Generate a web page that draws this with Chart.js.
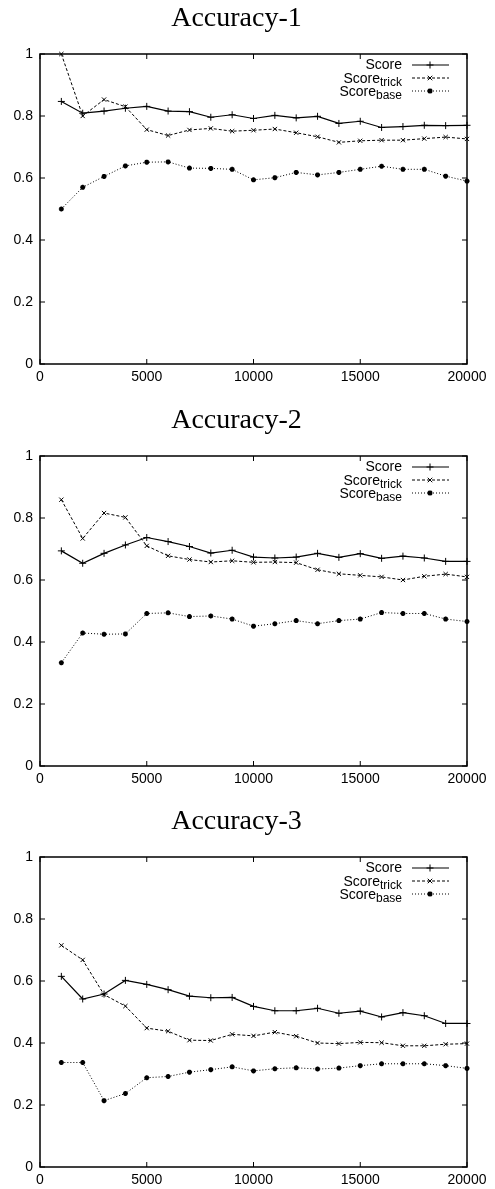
<!DOCTYPE html>
<html>
<head>
<meta charset="utf-8">
<script src="https://cdn.jsdelivr.net/npm/chart.js@4.4.1/dist/chart.umd.min.js"></script>
<style>
body { margin: 0; background: #fff; }
canvas { position: absolute; left: 0; }
</style>
</head>
<body>
<canvas id="acc1" width="495" height="386" style="top:0px"></canvas>
<canvas id="acc2" width="495" height="386" style="top:402px"></canvas>
<canvas id="acc3" width="495" height="386" style="top:803px"></canvas>
<script>
const steps = [1000, 2000, 3000, 4000, 5000, 6000, 7000, 8000, 9000, 10000,
	11000, 12000, 13000, 14000, 15000, 16000, 17000, 18000, 19000, 20000];
const xTicks = [0, 5000, 10000, 15000, 20000];
const yTicks = [0, 0.2, 0.4, 0.6, 0.8, 1];
const seriesNames = ['Score', 'trick', 'base'];

const acc1Score = [0.847, 0.809, 0.816, 0.825, 0.831, 0.816, 0.814, 0.796, 0.804, 0.792,
	0.802, 0.794, 0.799, 0.776, 0.783, 0.763, 0.766, 0.770, 0.769, 0.770];
const acc1Trick = [1.000, 0.800, 0.853, 0.830, 0.756, 0.737, 0.755, 0.760, 0.751, 0.754,
	0.758, 0.746, 0.733, 0.715, 0.720, 0.722, 0.722, 0.727, 0.732, 0.726];
const acc1Base = [0.500, 0.570, 0.605, 0.639, 0.651, 0.652, 0.632, 0.631, 0.628, 0.594,
	0.601, 0.618, 0.610, 0.618, 0.628, 0.638, 0.628, 0.628, 0.606, 0.590];

const acc2Score = [0.694, 0.654, 0.686, 0.713, 0.737, 0.724, 0.708, 0.687, 0.696, 0.674,
	0.671, 0.674, 0.686, 0.673, 0.685, 0.670, 0.677, 0.671, 0.660, 0.660];
const acc2Trick = [0.859, 0.734, 0.816, 0.802, 0.710, 0.678, 0.666, 0.658, 0.662, 0.657,
	0.658, 0.656, 0.633, 0.620, 0.615, 0.610, 0.600, 0.612, 0.619, 0.610];
const acc2Base = [0.333, 0.429, 0.425, 0.426, 0.492, 0.494, 0.482, 0.484, 0.474, 0.451,
	0.459, 0.469, 0.459, 0.469, 0.474, 0.495, 0.492, 0.492, 0.474, 0.466];

const acc3Score = [0.615, 0.542, 0.558, 0.602, 0.589, 0.572, 0.551, 0.546, 0.547, 0.518,
	0.504, 0.504, 0.512, 0.496, 0.503, 0.484, 0.498, 0.488, 0.463, 0.463];
const acc3Trick = [0.715, 0.668, 0.556, 0.519, 0.448, 0.438, 0.409, 0.408, 0.428, 0.423,
	0.435, 0.422, 0.400, 0.398, 0.402, 0.401, 0.391, 0.391, 0.396, 0.398];
const acc3Base = [0.337, 0.337, 0.214, 0.237, 0.288, 0.292, 0.306, 0.314, 0.323, 0.310,
	0.317, 0.320, 0.316, 0.319, 0.327, 0.333, 0.333, 0.333, 0.327, 0.318];

const styles = [
	{ dash: [], width: 1.2, point: 'cross', radius: 3.5, pw: 1 },
	{ dash: [3, 2], width: 1, point: 'crossRot', radius: 3, pw: 1 },
	{ dash: [1, 2], width: 1, point: 'star', radius: 2.5, pw: 1.6 }
];

function pts(vals) {
	return steps.map((s, i) => ({ x: s, y: vals[i] }));
}

function drawMarker(ctx, kind, x, y, r) {
	ctx.beginPath();
	if (kind === 'cross' || kind === 'star') {
		ctx.moveTo(x - r, y); ctx.lineTo(x + r, y);
		ctx.moveTo(x, y - r); ctx.lineTo(x, y + r);
	}
	if (kind === 'crossRot' || kind === 'star') {
		const d = r * 0.75;
		ctx.moveTo(x - d, y - d); ctx.lineTo(x + d, y + d);
		ctx.moveTo(x - d, y + d); ctx.lineTo(x + d, y - d);
	}
	ctx.stroke();
}

// gnuplot style box with inward ticks on all four sides
const frame = {
	id: 'frame',
	afterDraw(chart) {
		const ctx = chart.ctx;
		const a = chart.chartArea;
		const x = chart.scales.x, y = chart.scales.y;
		ctx.save();
		ctx.strokeStyle = '#000';
		ctx.lineWidth = 1;
		ctx.beginPath();
		x.ticks.forEach(t => {
			const px = x.getPixelForValue(t.value);
			ctx.moveTo(px, a.bottom); ctx.lineTo(px, a.bottom - 5);
			ctx.moveTo(px, a.top); ctx.lineTo(px, a.top + 5);
		});
		y.ticks.forEach(t => {
			const py = y.getPixelForValue(t.value);
			ctx.moveTo(a.left, py); ctx.lineTo(a.left + 5, py);
			ctx.moveTo(a.right, py); ctx.lineTo(a.right - 5, py);
		});
		ctx.stroke();
		ctx.lineWidth = 1.5;
		ctx.strokeRect(a.left, a.top, a.right - a.left, a.bottom - a.top);

		// legend with subscripts
		const textRight = a.right - 65;
		chart.data.datasets.forEach((ds, i) => {
			const st = styles[i];
			const ly = a.top + 11 + i * 13;
			ctx.fillStyle = '#000';
			ctx.textBaseline = 'middle';
			ctx.textAlign = 'right';
			let right = textRight;
			if (i > 0) {
				ctx.font = '12px "Liberation Sans", Arial, sans-serif';
				ctx.fillText(seriesNames[i], right, ly + 5);
				right -= ctx.measureText(seriesNames[i]).width;
			}
			ctx.font = '14px "Liberation Sans", Arial, sans-serif';
			ctx.fillText('Score', right, ly + (i > 0 ? 1 : 0));
			ctx.lineWidth = st.width;
			ctx.setLineDash(st.dash);
			ctx.beginPath();
			ctx.moveTo(a.right - 55, ly);
			ctx.lineTo(a.right - 18, ly);
			ctx.stroke();
			ctx.setLineDash([]);
			ctx.lineWidth = st.pw;
			drawMarker(ctx, st.point, a.right - 37, ly, st.radius);
		});
		ctx.restore();
	}
};

function makeChart(id, title, score, trick, base) {
	const ctx = document.getElementById(id).getContext('2d');
	return new Chart(ctx, {
		type: 'line',
		data: {
			datasets: [score, trick, base].map((vals, i) => ({
				label: i === 0 ? 'Score' : 'Score_' + seriesNames[i],
				data: pts(vals),
				borderColor: '#000',
				backgroundColor: '#000',
				borderWidth: styles[i].width,
				borderDash: styles[i].dash,
				pointStyle: styles[i].point,
				pointRadius: styles[i].radius,
				pointBorderWidth: styles[i].pw,
				pointBorderColor: '#000',
				fill: false,
				tension: 0,
				clip: false
			}))
		},
		options: {
			responsive: false,
			animation: false,
			layout: { padding: { top: 0, left: 6, right: 28, bottom: 0 } },
			plugins: {
				legend: { display: false },
				tooltip: { enabled: false },
				title: {
					display: true,
					text: title,
					color: '#000',
					font: { family: '"Liberation Serif", "Times New Roman", serif', size: 28, weight: 'normal' },
					padding: { top: 1.5, bottom: 18.9 }
				}
			},
			scales: {
				x: {
					type: 'linear',
					min: 0,
					max: 20000,
					afterBuildTicks: s => { s.ticks = xTicks.map(v => ({ value: v })); },
					afterFit: s => { s.height = 22; },
					ticks: {
						color: '#000',
						padding: 5,
						maxRotation: 0,
						font: { family: '"Liberation Sans", Arial, sans-serif', size: 14 },
						callback: v => String(v)
					},
					grid: { display: false, drawTicks: false },
					border: { display: false }
				},
				y: {
					min: 0,
					max: 1,
					afterBuildTicks: s => { s.ticks = yTicks.map(v => ({ value: v })); },
					afterFit: s => { s.width = 34; },
					ticks: {
						color: '#000',
						padding: 7,
						font: { family: '"Liberation Sans", Arial, sans-serif', size: 14 },
						callback: v => String(v)
					},
					grid: { display: false, drawTicks: false },
					border: { display: false }
				}
			}
		},
		plugins: [frame]
	});
}

makeChart('acc1', 'Accuracy-1', acc1Score, acc1Trick, acc1Base);
makeChart('acc2', 'Accuracy-2', acc2Score, acc2Trick, acc2Base);
makeChart('acc3', 'Accuracy-3', acc3Score, acc3Trick, acc3Base);
</script>
</body>
</html>
